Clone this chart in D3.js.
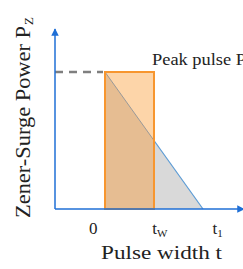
<!DOCTYPE html>
<html>
<head>
<meta charset="utf-8">
<script src="https://cdn.jsdelivr.net/npm/d3@7"></script>
<style>
  body { margin: 0; background: #fff; }
  text { font-family: "Liberation Serif", "DejaVu Serif", serif; fill: #222; }
</style>
</head>
<body>
<div id="chart"></div>
<script>
// pulse shapes in time units (0 .. t1) and normalised power (0 .. 1)
const rectPulse = [{t: 0, p: 1}, {t: 1, p: 1}];       // square pulse 0..tw at peak
const decayPulse = [{t: 0, p: 1}, {t: 2, p: 0}];      // linear decay 0..t1
const tickVals = [-0.24, 1.12, 2.3];
const tickLabels = ["0", "t_W", "t_1"];

const width = 243, height = 269;
const svg = d3.select("#chart").append("svg")
    .attr("width", width)
    .attr("height", height);

const x = d3.scaleLinear().domain([0, 2]).range([105, 203]);
const y = d3.scaleLinear().domain([0, 1]).range([209, 72]);
const x0 = 55;   // y axis position

const defs = svg.append("defs");
defs.append("marker")
    .attr("id", "arrow")
    .attr("viewBox", "0 0 10 10")
    .attr("refX", 9).attr("refY", 5)
    .attr("markerWidth", 5).attr("markerHeight", 5)
    .attr("orient", "auto")
  .append("path")
    .attr("d", "M0,0L10,5L0,10z")
    .attr("fill", "#1f6fd6");

// grey triangle (area under decay)
const tw = rectPulse[1].t;
const interp = d3.scaleLinear().domain(decayPulse.map(d => d.t)).range(decayPulse.map(d => d.p));
svg.append("path")
    .attr("d", d3.line()([
        [x(tw), y(interp(tw))],
        [x(decayPulse[1].t), y(decayPulse[1].p)],
        [x(tw), y(0)]
    ]) + "Z")
    .attr("fill", "#d9d9d9");

// square pulse rectangle
svg.append("rect")
    .attr("x", x(rectPulse[0].t))
    .attr("y", y(rectPulse[0].p))
    .attr("width", x(rectPulse[1].t) - x(rectPulse[0].t))
    .attr("height", y(0) - y(rectPulse[0].p))
    .attr("fill", "#fdd5a9");

// darker part under the decay line inside the rect
svg.append("path")
    .attr("d", d3.line()([
        [x(0), y(1)],
        [x(tw), y(interp(tw))],
        [x(tw), y(0)],
        [x(0), y(0)]
    ]) + "Z")
    .attr("fill", "#e6bd92");

// decay line: grey inside rect, blue outside
svg.append("line")
    .attr("x1", x(0)).attr("y1", y(1))
    .attr("x2", x(tw)).attr("y2", y(interp(tw)))
    .attr("stroke", "#999").attr("stroke-width", 1);
svg.append("line")
    .attr("x1", x(tw)).attr("y1", y(interp(tw)))
    .attr("x2", x(decayPulse[1].t)).attr("y2", y(decayPulse[1].p))
    .attr("stroke", "#5b9bd5").attr("stroke-width", 1.2);

// rect outline
svg.append("rect")
    .attr("x", x(rectPulse[0].t))
    .attr("y", y(rectPulse[0].p))
    .attr("width", x(rectPulse[1].t) - x(rectPulse[0].t))
    .attr("height", y(0) - y(rectPulse[0].p))
    .attr("fill", "none")
    .attr("stroke", "#f7962f")
    .attr("stroke-width", 2);

// dashed peak line
svg.append("line")
    .attr("x1", x0).attr("y1", y(1))
    .attr("x2", x(0) - 2).attr("y2", y(1))
    .attr("stroke", "#7f7f7f")
    .attr("stroke-width", 2.5)
    .attr("stroke-dasharray", "8,6");

// axes
svg.append("line")
    .attr("x1", x0).attr("y1", y(0))
    .attr("x2", x0).attr("y2", 29)
    .attr("stroke", "#1f6fd6").attr("stroke-width", 1.5)
    .attr("marker-end", "url(#arrow)");
svg.append("line")
    .attr("x1", x0).attr("y1", y(0))
    .attr("x2", 244).attr("y2", y(0))
    .attr("stroke", "#1f6fd6").attr("stroke-width", 1.5)
    .attr("marker-end", "url(#arrow)");

// tick labels with subscripts
tickVals.forEach((v, i) => {
    const parts = tickLabels[i].split("_");
    const t = svg.append("text")
        .attr("x", x(v))
        .attr("y", 234)
        .attr("text-anchor", "middle")
        .attr("font-size", 17);
    t.append("tspan").text(parts[0]);
    if (parts[1]) {
        t.append("tspan")
            .attr("font-size", 11)
            .attr("dy", 3)
            .text(parts[1]);
    }
});

svg.append("text")
    .attr("x", 101).attr("y", 259)
    .attr("font-size", 19)
    .attr("textLength", 121)
    .attr("lengthAdjust", "spacingAndGlyphs")
    .text("Pulse width t");

svg.append("text")
    .attr("transform", "translate(30,218) rotate(-90)")
    .attr("font-size", 20)
    .attr("textLength", 192)
    .attr("lengthAdjust", "spacingAndGlyphs")
    .text("Zener-Surge  Power  P");
svg.append("text")
    .attr("transform", "translate(33,25) rotate(-90)")
    .attr("font-size", 13)
    .text("Z");

svg.append("text")
    .attr("x", 152).attr("y", 65)
    .attr("font-size", 16)
    .attr("textLength", 94)
    .attr("lengthAdjust", "spacingAndGlyphs")
    .text("Peak pulse P");
</script>
</body>
</html>
